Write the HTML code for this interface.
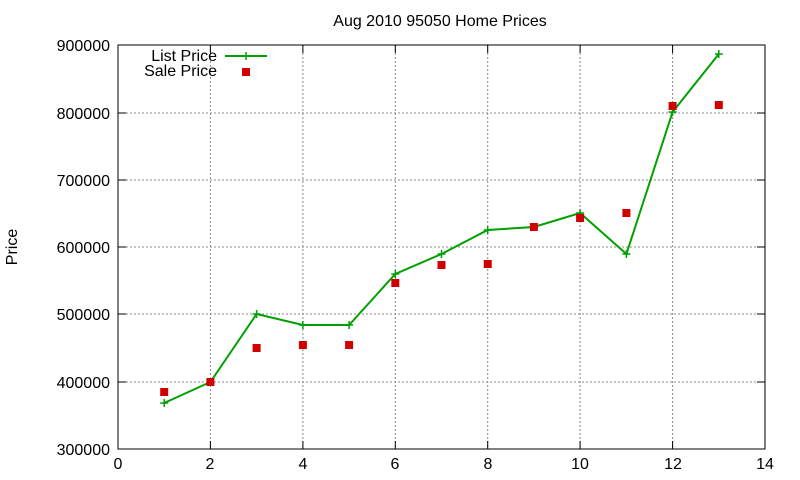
<!DOCTYPE html>
<html><head><style>body{margin:0;background:#fff}svg{display:block}text{font-family:"Liberation Sans",sans-serif;font-size:16px;fill:#000}</style></head><body>
<svg width="800" height="480" xmlns="http://www.w3.org/2000/svg">
<rect width="800" height="480" fill="#fff"/>
<g stroke="#888" stroke-dasharray="2,2" stroke-width="1">
<line x1="118" x2="765" y1="113" y2="113"/><line x1="118" x2="765" y1="180" y2="180"/><line x1="118" x2="765" y1="247" y2="247"/><line x1="118" x2="765" y1="314" y2="314"/><line x1="118" x2="765" y1="382" y2="382"/>
<line x1="210.4" x2="210.4" y1="45" y2="449"/><line x1="302.9" x2="302.9" y1="45" y2="449"/><line x1="395.3" x2="395.3" y1="45" y2="449"/><line x1="487.7" x2="487.7" y1="45" y2="449"/><line x1="580.1" x2="580.1" y1="45" y2="449"/><line x1="672.6" x2="672.6" y1="45" y2="449"/>
</g>
<g stroke="#000">
<path d="M118,113h8M118,180h8M118,247h8M118,314h8M118,382h8M765,113h-8M765,180h-8M765,247h-8M765,314h-8M765,382h-8"/>
<path d="M210.4,449v-8M302.9,449v-8M395.3,449v-8M487.7,449v-8M580.1,449v-8M672.6,449v-8M210.4,45v8M302.9,45v8M395.3,45v8M487.7,45v8M580.1,45v8M672.6,45v8"/>
</g>
<rect x="118" y="45" width="647" height="404" fill="none" stroke="#000"/>
<g text-anchor="end">
<text x="110" y="51">900000</text><text x="110" y="119">800000</text><text x="110" y="186">700000</text><text x="110" y="253">600000</text><text x="110" y="320">500000</text><text x="110" y="388">400000</text><text x="110" y="455">300000</text>
</g>
<g text-anchor="middle">
<text x="118" y="469">0</text><text x="210" y="469">2</text><text x="303" y="469">4</text><text x="395" y="469">6</text><text x="488" y="469">8</text><text x="580" y="469">10</text><text x="673" y="469">12</text><text x="765" y="469">14</text>
<text x="440" y="26">Aug 2010 95050 Home Prices</text>
<text x="0" y="0" transform="translate(17,247) rotate(-90)">Price</text>
</g>
<text x="217" y="61" text-anchor="end">List Price</text>
<text x="217" y="76" text-anchor="end">Sale Price</text>
<line x1="225" x2="267" y1="56" y2="56" stroke="#00a000" stroke-width="2"/>
<polyline fill="none" stroke="#00a000" stroke-width="2" points="164.2,403 210.4,382 256.6,314 302.9,325 349.1,325 395.3,274 441.5,254 487.7,230 533.9,227 580.1,213 626.4,254 672.6,112 718.8,54"/>
<g stroke="#00a000" stroke-width="1.5">
<path d="M242,56h8M246,52v8"/>
<path d="M160.2,403h8M164.2,399v8M206.4,382h8M210.4,378v8M252.6,314h8M256.6,310v8M298.9,325h8M302.9,321v8M345.1,325h8M349.1,321v8M391.3,274h8M395.3,270v8M437.5,254h8M441.5,250v8M483.7,230h8M487.7,226v8M529.9,227h8M533.9,223v8M576.1,213h8M580.1,209v8M622.4,254h8M626.4,250v8M668.6,112h8M672.6,108v8M714.8,54h8M718.8,50v8"/>
</g>
<g fill="#d00000">
<rect x="242" y="68" width="8" height="8"/>
<rect x="160.2" y="388" width="8" height="8"/><rect x="206.4" y="378" width="8" height="8"/><rect x="252.6" y="344" width="8" height="8"/><rect x="298.9" y="341" width="8" height="8"/><rect x="345.1" y="341" width="8" height="8"/><rect x="391.3" y="279" width="8" height="8"/><rect x="437.5" y="261" width="8" height="8"/><rect x="483.7" y="260" width="8" height="8"/><rect x="529.9" y="223" width="8" height="8"/><rect x="576.1" y="214" width="8" height="8"/><rect x="622.4" y="209" width="8" height="8"/><rect x="668.6" y="102" width="8" height="8"/><rect x="714.8" y="101" width="8" height="8"/>
</g>
</svg>
</body></html>
